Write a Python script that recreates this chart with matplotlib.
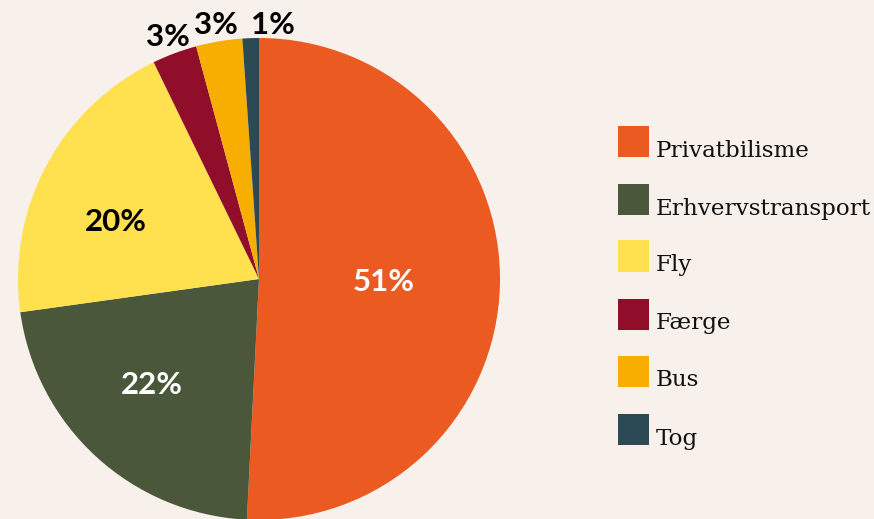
import matplotlib
matplotlib.use("Agg")
import matplotlib.pyplot as plt
from matplotlib.patches import Rectangle
import numpy as np

categories = ["Privatbilisme", "Erhvervstransport", "Fly", "Færge", "Bus", "Tog"]
values = [50.8, 22.0, 20.0, 3.0, 3.1, 1.1]
colors = ["#EB5A20", "#4A573A", "#FFE04F", "#900E2A", "#F7AE00", "#2B4A55"]
label_colors = ["white", "white", "black", "black", "black", "black"]
label_dist = [0.517, 0.622, 0.643, 1.081, 1.075, 1.062]
label_ang_off = [0.9, -3.3, 5.7, 0.0, 0.0, -5.0]

bg = "#F7F0EB"
fig = plt.figure(figsize=(8.74, 5.19), dpi=100, facecolor=bg)
ax = fig.add_axes([18/874, (519-520)/519, 482/874, 482/519])
ax.set_facecolor(bg)
wedges, _ = ax.pie(values, colors=colors, startangle=90, counterclock=False,
                   radius=1, wedgeprops=dict(linewidth=0))
ax.set_xlim(-1, 1)
ax.set_ylim(-1, 1)
ax.set_aspect("equal")
ax.axis("off")

total = sum(values)
cum = 0
for v, c, d, off in zip(values, label_colors, label_dist, label_ang_off):
    mid = (cum + v / 2) / total
    cum += v
    ang = np.deg2rad(90 - 360 * mid + off)
    x = d * np.cos(ang)
    y = d * np.sin(ang) - 0.008
    ax.text(x, y, f"{round(v)}%", ha="center", va="center", color=c,
            fontsize=22.5, fontweight="bold", family=["Lato", "DejaVu Sans"])

row_y = [141, 199, 256, 314, 371, 429]
for cat, col, yy in zip(categories, colors, row_y):
    yf = (519 - yy) / 519
    fig.patches.append(Rectangle((618/874, yf - 15.5/519), 31/874, 31/519,
                                 transform=fig.transFigure, facecolor=col,
                                 edgecolor="none"))
    fig.text(656/874, yf - 15.5/519, cat, ha="left", va="baseline", fontsize=16.6,
             family=["DejaVu Serif"], color="#111111")

fig.savefig("out.png", dpi=100, facecolor=bg)
